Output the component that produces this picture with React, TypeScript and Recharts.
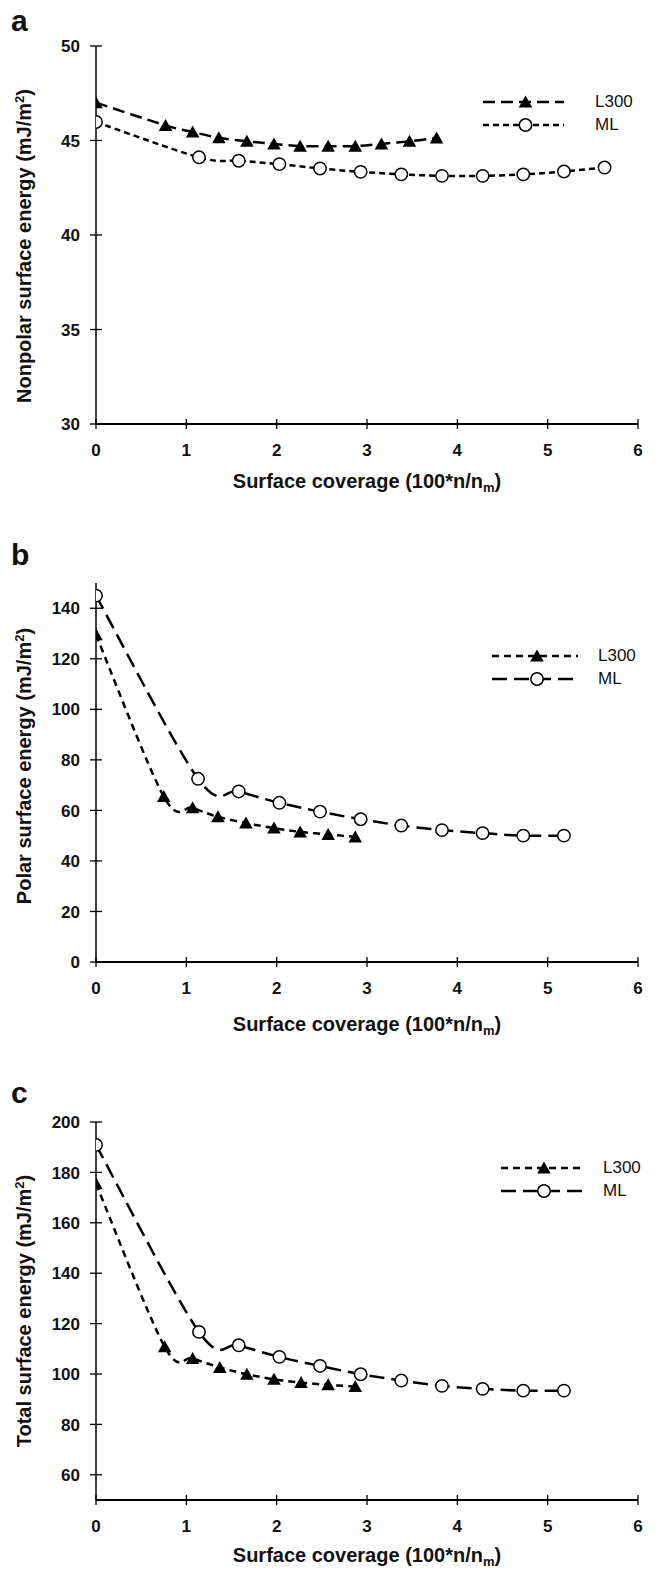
import React from "react";
import { LineChart, Line, XAxis, YAxis, Legend } from "recharts";

const FONT = "'Liberation Sans', Arial, Helvetica, sans-serif";

// x values (surface coverage) and energies
const aL300X = [0, 0.77, 1.07, 1.36, 1.67, 1.97, 2.26, 2.57, 2.87, 3.16, 3.47, 3.77];
const aL300Y = [47.0, 45.8, 45.45, 45.14, 44.96, 44.82, 44.7, 44.7, 44.7, 44.82, 44.96, 45.13];
const aMLX = [0, 1.14, 1.58, 2.03, 2.48, 2.93, 3.38, 3.83, 4.28, 4.73, 5.18, 5.63];
const aMLY = [45.98, 44.11, 43.93, 43.75, 43.52, 43.34, 43.21, 43.13, 43.13, 43.21, 43.36, 43.57];

const bL300X = [0, 0.75, 1.07, 1.35, 1.66, 1.97, 2.26, 2.57, 2.87];
const bL300Y = [129.5, 65.5, 61, 57.5, 55, 53, 51.5, 50.5, 49.5];
const bMLX = [0, 1.13, 1.58, 2.03, 2.48, 2.93, 3.38, 3.83, 4.28, 4.73, 5.18];
const bMLY = [145, 72.5, 67.5, 63, 59.5, 56.5, 54, 52.2, 51, 50, 50];

const cL300X = [0, 0.76, 1.07, 1.37, 1.67, 1.97, 2.27, 2.57, 2.87];
const cL300Y = [175.5, 110.8, 106.2, 102.6, 99.9, 97.9, 96.6, 95.7, 95.0];
const cMLX = [0, 1.14, 1.58, 2.03, 2.48, 2.93, 3.38, 3.83, 4.28, 4.73, 5.18];
const cMLY = [190.9, 116.7, 111.4, 106.8, 103.2, 99.9, 97.4, 95.3, 94.1, 93.4, 93.4];

const xTicks = [0, 1, 2, 3, 4, 5, 6];
const aTicks = [30, 35, 40, 45, 50];
const bTicks = [0, 20, 40, 60, 80, 100, 120, 140];
const cTicks = [60, 80, 100, 120, 140, 160, 180, 200];

const pts = (xs: number[], ys: number[]) => xs.map((x, i) => ({ x, y: ys[i] }));

const LONG = "12 6";
const SHORT = "6 4";
const LONG_BC = "15 7";
const SHORT_BC = "7 5";

// excel-like smoothed line (catmull-rom through every point)
const smooth = (ctx: any) => {
  let p: number[][] = [];
  return {
    areaStart() {},
    areaEnd() {},
    lineStart() {
      p = [];
    },
    point(x: number, y: number) {
      p.push([+x, +y]);
    },
    lineEnd() {
      if (!p.length) return;
      ctx.moveTo(p[0][0], p[0][1]);
      for (let i = 0; i < p.length - 1; i++) {
        const p0 = p[i - 1] || p[i];
        const p1 = p[i];
        const p2 = p[i + 1];
        const p3 = p[i + 2] || p2;
        ctx.bezierCurveTo(
          p1[0] + (p2[0] - p0[0]) / 6,
          p1[1] + (p2[1] - p0[1]) / 6,
          p2[0] - (p3[0] - p1[0]) / 6,
          p2[1] - (p3[1] - p1[1]) / 6,
          p2[0],
          p2[1]
        );
      }
    },
  };
};

const TriDot = (props: any) => {
  const { cx, cy } = props;
  if (cx == null || cy == null) return null;
  return <path d={`M${cx},${cy - 6.5} L${cx + 6.8},${cy + 5.5} L${cx - 6.8},${cy + 5.5} Z`} fill="#000" />;
};

const CircleDot = (props: any) => {
  const { cx, cy } = props;
  if (cx == null || cy == null) return null;
  return <circle cx={cx} cy={cy} r={6.2} fill="#fff" stroke="#000" strokeWidth={1.5} />;
};

const TICK_SIZE = 6;
const TICK_MARGIN = 10;

const YTick = (props: any) => {
  const { x, y, payload } = props;
  const ax = x + TICK_SIZE + TICK_MARGIN;
  return (
    <g>
      <line x1={ax - 6} x2={ax + 6} y1={y} y2={y} stroke="#000" strokeWidth={1.3} />
      <text x={x} y={y} dy="0.36em" textAnchor="end" fontFamily={FONT} fontWeight="bold" fontSize={17} fill="#111">
        {payload.value}
      </text>
    </g>
  );
};

const XTick = (props: any) => {
  const { x, y, payload } = props;
  const ay = y - TICK_SIZE - TICK_MARGIN;
  return (
    <g>
      <line x1={x} x2={x} y1={ay - 5} y2={ay + 5} stroke="#000" strokeWidth={1.3} />
      <text x={x} y={ay + 26} dy="0.36em" textAnchor="middle" fontFamily={FONT} fontWeight="bold" fontSize={17} fill="#111">
        {payload.value}
      </text>
    </g>
  );
};

type Item = { name: string; dash: string; marker: "tri" | "circle" };

const LegendBox = ({ items, lineW, gap }: { items: Item[]; lineW: number; gap: number }) => (
  <div style={{ fontFamily: FONT, fontSize: 17, color: "#111" }}>
    {items.map((it) => (
      <div key={it.name} style={{ display: "flex", alignItems: "center", height: 23 }}>
        <svg width={lineW} height={16} style={{ display: "block" }}>
          <line x1={0} x2={lineW} y1={8} y2={8} stroke="#000" strokeWidth={2.5} strokeDasharray={it.dash} />
          {it.marker === "tri" ? <TriDot cx={lineW / 2 + 2} cy={8} /> : <CircleDot cx={lineW / 2 + 2} cy={8} />}
        </svg>
        <span style={{ marginLeft: gap }}>{it.name}</span>
      </div>
    ))}
  </div>
);

type PanelProps = {
  top: number;
  height: number;
  marginTop: number;
  marginBottom: number;
  domain: number[];
  ticks: number[];
  l300: { x: number; y: number }[];
  ml: { x: number; y: number }[];
  l300Dash: string;
  mlDash: string;
  legendLeft: number;
  legendTop: number;
  legendW: number;
  legendGap: number;
};

function Panel(p: PanelProps) {
  const items: Item[] = [
    { name: "L300", dash: p.l300Dash, marker: "tri" },
    { name: "ML", dash: p.mlDash, marker: "circle" },
  ];
  return (
    <div style={{ position: "absolute", left: 0, top: p.top }}>
      <LineChart
        width={656}
        height={p.height}
        margin={{ top: p.marginTop, right: 18, bottom: p.marginBottom, left: 0 }}
      >
        <XAxis
          dataKey="x"
          type="number"
          domain={[0, 6]}
          ticks={xTicks}
          allowDataOverflow
          height={60}
          tickSize={TICK_SIZE}
          tickMargin={TICK_MARGIN}
          tickLine={false}
          axisLine={{ stroke: "#000", strokeWidth: 2 }}
          tick={<XTick />}
        />
        <YAxis
          type="number"
          domain={p.domain}
          ticks={p.ticks}
          allowDataOverflow
          width={96}
          tickSize={TICK_SIZE}
          tickMargin={TICK_MARGIN}
          tickLine={false}
          axisLine={{ stroke: "#000", strokeWidth: 1.5 }}
          tick={<YTick />}
        />
        <Legend
          layout="horizontal"
          align="center"
          verticalAlign="middle"
          wrapperStyle={{ left: p.legendLeft, top: p.legendTop, width: 160 }}
          content={() => <LegendBox items={items} lineW={p.legendW} gap={p.legendGap} />}
        />
        <Line
          data={p.l300}
          dataKey="y"
          name="L300"
          type={smooth as any}
          stroke="#000"
          strokeWidth={2.5}
          strokeDasharray={p.l300Dash}
          dot={<TriDot />}
          activeDot={false}
          isAnimationActive={false}
        />
        <Line
          data={p.ml}
          dataKey="y"
          name="ML"
          type={smooth as any}
          stroke="#000"
          strokeWidth={2.5}
          strokeDasharray={p.mlDash}
          dot={<CircleDot />}
          activeDot={false}
          isAnimationActive={false}
        />
      </LineChart>
    </div>
  );
}

const XTitle = ({ y }: { y: number }) => (
  <text x={367} y={y} dy="0.36em" textAnchor="middle" fontFamily={FONT} fontWeight="bold" fontSize={20} fill="#111">
    Surface coverage (100*n/n
    <tspan dy={4} fontSize={13}>m</tspan>
    <tspan dy={-4}>)</tspan>
  </text>
);

const YTitle = ({ cy, text }: { cy: number; text: string }) => (
  <text
    x={24}
    y={cy}
    dy="0.36em"
    transform={`rotate(-90 24 ${cy})`}
    textAnchor="middle"
    fontFamily={FONT}
    fontWeight="bold"
    fontSize={20}
    fill="#111"
  >
    {text} (mJ/m
    <tspan dy={-7} fontSize={13}>2</tspan>
    <tspan dy={7}>)</tspan>
  </text>
);

export default function App() {
  return (
    <div style={{ position: "absolute", left: 0, top: 0, width: 656, height: 1574, background: "#fff" }}>
      <Panel
        top={0}
        height={500}
        marginTop={46}
        marginBottom={16}
        domain={[30, 50]}
        ticks={aTicks}
        l300={pts(aL300X, aL300Y)}
        ml={pts(aMLX, aMLY)}
        l300Dash={LONG}
        mlDash={SHORT}
        legendLeft={483}
        legendTop={90}
        legendW={81}
        legendGap={31}
      />
      <Panel
        top={540}
        height={500}
        marginTop={43}
        marginBottom={18}
        domain={[0, 150]}
        ticks={bTicks}
        l300={pts(bL300X, bL300Y)}
        ml={pts(bMLX, bMLY)}
        l300Dash={SHORT_BC}
        mlDash={LONG_BC}
        legendLeft={492}
        legendTop={104}
        legendW={86}
        legendGap={20}
      />
      <Panel
        top={1080}
        height={494}
        marginTop={42}
        marginBottom={14}
        domain={[50, 200]}
        ticks={cTicks}
        l300={pts(cL300X, cL300Y)}
        ml={pts(cMLX, cMLY)}
        l300Dash={SHORT_BC}
        mlDash={LONG_BC}
        legendLeft={501}
        legendTop={76}
        legendW={82}
        legendGap={20}
      />
      <svg width={656} height={1574} style={{ position: "absolute", left: 0, top: 0, pointerEvents: "none" }}>
        <text x={11} y={31} fontFamily={FONT} fontWeight="bold" fontSize={30} fill="#111">a</text>
        <text x={11} y={565} fontFamily={FONT} fontWeight="bold" fontSize={30} fill="#111">b</text>
        <text x={11} y={1103} fontFamily={FONT} fontWeight="bold" fontSize={30} fill="#111">c</text>
        <YTitle cy={246} text="Nonpolar surface energy" />
        <YTitle cy={766} text="Polar surface energy" />
        <YTitle cy={1311} text="Total surface energy" />
        <XTitle y={481} />
        <XTitle y={1024} />
        <XTitle y={1555} />
      </svg>
    </div>
  );
}
